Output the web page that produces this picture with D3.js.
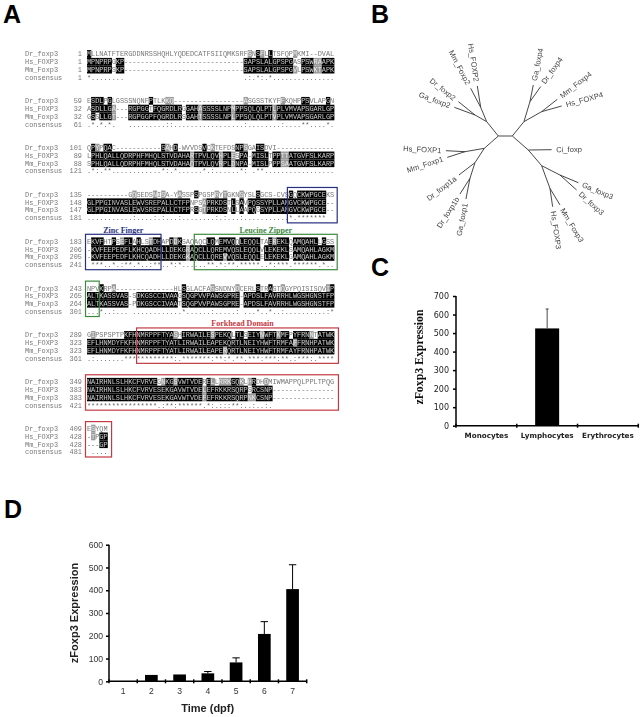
<!DOCTYPE html>
<html><head><meta charset="utf-8">
<script src="https://cdn.jsdelivr.net/npm/d3@7"></script>
<style>html,body{margin:0;padding:0;background:#fff}svg{display:block}</style></head>
<body><svg id="c" width="642" height="717"></svg>
<script>
// ---- Panel A: alignment
const seqNames = ["Dr_foxp3","Hs_FOXP3","Mm_Foxp3"];
const consensusName = "consensus";
const drSeq = [
"MLLNATFTERGDDNRSSHQHLYQDEDCATFSIIQMKSRFSNSFLLTSFQPMKMI--DVAL",
"ESDLPGLGSSSNQNFPTLKKQ-----------------ASGSSTKYFFKQHPPSVLAPGN",
"QPYPQAC-----------SAHD-WVVDSVCKTEFDSNPSGAISDVI--------------",
"----------GQSEDSNISA-YASSPSPGSPRYTGKNSYSLSGCS-CVSGQCKWPGCEKS",
"EKVFHTPSEFLAHLSTDHAPDDKSAQAQCLQMEMVQQLEQQLTAEREKLQAMQAHLLGSS",
"NPVKRPA--------------HLSGLACFASSNDNYDCERLSTRASTQGYPQISISQVIP",
"GIPSPSPTPKFHNMRPPFTYASHIRWAILESPEKQLTLSEIYNWFTKMFPYFRNNTATWK",
"NAIRHNLSLHKCFVRVEGNKGSVWTVDERELLRRKSQKLHRDHDMIWMAPPQLPPLTPQG",
"ESYQM"];
const hsSeq = [
"MPNPRPGKP-----------------------------SAPSLALGPSPGASPSWRAAPK",
"ASDLLGA---RGPGGTFQGRDLRGGAHASSSSLNPMPPSQLQLPTLPLVMVAPSGARLGP",
"LPHLQALLQDRPHFMHQLSTVDAHARTPVLQVHPLESPA-MISLTPPTTATGVFSLKARP",
"GLPPGINVASLEWVSREPALLCTFPNPSAPRKDSTLSAVPQSSYPLLANGVCKWPGCE--",
"-KVFEEPEDFLKHCQADHLLDEKGRAQCLLQREMVQSLEQQLVLEKEKLSAMQAHLAGKM",
"ALTKASSVAS-SDKGSCCIVAAGSQGPVVPAWSGPRE-APDSLFAVRRHLWGSHGNSTFP",
"EFLHNMDYFKFHNMRPPFTYATLIRWAILEAPEKQRTLNEIYHWFTRMFAFFRNHPATWK",
"NAIRHNLSLHKCFVRVESEKGAVWTVDELEFRKKRSQRPSRCSNP---------------",
"-TPGP"];
const mmSeq = [
"MPNPRPSKP-----------------------------SAPSLALGPSPGVLPSWKTAPK",
"GSSLLGT---RGPGGPFQGRDLRSGAHTSSSSLNPLPPSQLQLPTVPLVMVAPSGARLGP",
"SPHLQALLQDRPHFMHQLSTVDAHAQTPVLQVRPLDNPA-MISLPPPSAATGVFSLKARP",
"GLPPGINVASLEWVSREPALLCTFPRSGTPRKDSNLLAAPQGSYPLLANGVCKWPGCE--",
"-KVFEEPEDFLKHCQADHLLDEKGKAQCLLQREVVQSLEQQLELEKEKLGAMQAHLAGKM",
"ALTKASSVAS-PDKGSCCIVAATSQGPVVPAWSGPRE-APDSLFAVRRHLWGSHGNSTFP",
"EFLHNMDYFKFHNMRPPFTYATLIRWAILEAPERQRTLNEIYHWFTRMFAYFRNHPATWK",
"NAIRHNLSLHKCFVRVESEKGAVWTVDEFEFRKKRSQRPNKCSNP---------------",
"---GP"];
const drStart = [1,59,101,135,183,243,289,349,409];
const hsStart = [1,32,89,148,206,265,323,383,428];
const mmStart = [1,32,88,147,205,264,323,383,428];
const consStart = [1,61,121,181,241,301,361,421,481];
const similarGroups = ["STA","NEQK","NHQK","NDEQ","QHRK","MILV","MILF","HY","FYW"];
// domain annotations: block / column ranges
const domainNames = ["","Zinc Finger","Leucine Zipper","","Forkhead Domain","",""];
const domainColors = ["#27307f","#27307f","#3d8a3f","#3d8a3f","#c23a44","#c23a44","#c23a44"];
const domainBlock = [3,4,4,5,6,7,8];
const domainCol0 = [49,0,26.4,0,12.4,0,0];
const domainCol1 = [60,17.6,60,2.6,60.3,60.3,5.6];

// ---- Panel B: tree  [node, parent, branch length, bearing in degrees]
const treeEdges = [
["L","root",21,180],["R","root",21,0],
["P2","L",55.4,-129],["P2a","P2",46.6,-112.7],["Hs_FOXP2","P2a",64.8,-98.9],["Mm_Foxp2","P2a",64.4,-117.8],
["P2b","P2",40.3,-150.3],["Dr_foxp2","P2b",64,-141.3],["Ga_foxp2","P2b",66.1,-159.6],
["P1","L",56,138.6],["P1a","P1",58.9,170.2],["Hs_FOXP1","P1a",57.1,-177],["Mm_Foxp1","P1a",55.7,162.2],
["P1b","P1",51.3,123.1],["Dr_foxp1a","P1b",60.6,142.4],["P1c","P1b",49.3,107.7],
["Dr_foxp1b","P1c",55.8,122.6],["Ga_foxp1","P1c",63.2,101],
["P4","R",55.4,-50.9],["P4a","P4",62.6,-73.3],["Ga_foxp4","P4a",51,-78.7],["Dr_foxp4","P4a",55.2,-54.6],
["P4b","P4",60.9,-29.5],["Mm_Foxp4","P4b",59.8,-38.2],["Hs_FOXP4","P4b",62.4,-15.8],
["C","R",63.8,41.2],["Ci_foxp","C",70,-0.8],["P3","C",61.7,49.6],
["P3a","P3",61.7,27],["Ga_foxp3","P3a",59.6,22.7],["Dr_foxp3","P3a",67.3,42],
["P3b","P3",72.4,69.8],["Hs_FOXP3","P3b",55.6,81.7],["Mm_Foxp3","P3b",58.3,59]
];

// ---- Panel C
const cellTypes = ["Monocytes","Lymphocytes","Erythrocytes"];
const cellValues = [3,525,0];
const cellErrors = [0,105,0];
const cellTicks = [0,100,200,300,400,500,600,700];
// ---- Panel D
const days = ["1","2","3","4","5","6","7"];
const dayValues = [0,28,30,35,83,208,405];
const dayErrors = [0,0,0,8,20,54,107];
const dayTicks = [0,100,200,300,400,500,600];
const yTitle = "zFoxp3 Expression";

const svg = d3.select("#c");
const defs = svg.append("defs");
defs.append("filter").attr("id","soft").append("feGaussianBlur").attr("stdDeviation",0.35);
defs.append("filter").attr("id","soft2").append("feGaussianBlur").attr("stdDeviation",0.3);

// panel letters
const letters = [["A",3,23],["B",371,23],["C",371,276],["D",4,518]];
svg.selectAll("text.pl").data(letters).join("text").attr("class","pl")
  .attr("x",d=>d[1]).attr("y",d=>d[2]).text(d=>d[0])
  .attr("font-family","Liberation Sans").attr("font-weight","bold").attr("font-size",25).attr("fill","#000");

// ---- A
const colX = d3.scaleLinear().domain([0,60]).range([87,334.2]);
const blockY = d3.scaleLinear().domain([0,8]).range([54,428.6]);
const rowDY = d3.scaleLinear().domain([0,3]).range([0,23.4]);
const gA = svg.append("g").attr("filter","url(#soft)");
const mono = "Liberation Mono";
const similar = (a,b)=>similarGroups.some(g=>g.includes(a)&&g.includes(b));
drSeq.forEach((_,b)=>{
  const rows=[drSeq[b],hsSeq[b],mmSeq[b]];
  const starts=[drStart[b],hsStart[b],mmStart[b],consStart[b]];
  const g=gA.append("g");
  const len=d3.max(rows,r=>r.length);
  const labels=seqNames.concat([consensusName]);
  labels.forEach((n,r)=>{
    const y=blockY(b)+rowDY(r);
    g.append("text").attr("x",25).attr("y",y).attr("dy","0.35em").text(n)
      .attr("font-family",mono).attr("font-size",6.9).attr("fill","#777");
    g.append("text").attr("x",82).attr("y",y).attr("dy","0.35em").attr("text-anchor","end").text(starts[r])
      .attr("font-family",mono).attr("font-size",6.9).attr("fill","#777");
  });
  for(let c=0;c<len;c++){
    const col=rows.map(r=>r[c]||"-");
    const letters=col.filter(x=>x!=="-");
    rows.forEach((rw,r)=>{
      const ch=col[r];
      const y=blockY(b)+rowDY(r);
      let fill=null,tc="#777";
      if(ch!=="-"){
        const same=col.filter(x=>x===ch).length;
        const sim=col.filter((x,i)=>i!==r&&x!=="-"&&similar(x,ch)).length;
        if(same>=2){fill="#000";tc="#ccc";}
        else if(sim>=1){fill="#9a9a9a";tc="#eee";}
      }
      if(fill) g.append("rect").attr("x",colX(c)).attr("y",y-3.9).attr("width",colX(1)-colX(0)+0.2).attr("height",7.8).attr("fill",fill);
      g.append("text").attr("x",colX(c+0.5)).attr("y",y).attr("dy","0.35em").attr("text-anchor","middle").text(ch)
        .attr("font-family",mono).attr("font-size",6.9).attr("fill",tc);
    });
    let mark=" ";
    if(letters.length>=2){
      if(letters.length===3&&new Set(letters).size===1) mark="*";
      else if(letters.length===3&&letters.every(x=>similar(x,letters[0]))) mark=":";
      else mark=".";
    }
    g.append("text").attr("x",colX(c+0.5)).attr("y",blockY(b)+rowDY(3)).attr("dy","0.35em").attr("text-anchor","middle").text(mark)
      .attr("font-family",mono).attr("font-size",6.9).attr("fill","#666");
  }
});
domainBlock.forEach((b,i)=>{
  const x0=colX(domainCol0[i])-1.5, x1=colX(domainCol1[i])+(domainCol1[i]>=60?3:1.5);
  const y0=blockY(b)-7, y1=blockY(b)+rowDY(3)+5;
  svg.append("rect").attr("x",x0).attr("y",y0).attr("width",x1-x0).attr("height",y1-y0)
    .attr("fill","none").attr("stroke",domainColors[i]).attr("stroke-width",1.2);
  if(domainNames[i]) svg.append("text").attr("x",(x0+x1)/2+(i===4?5:0)).attr("y",y0-1.5).attr("text-anchor","middle").text(domainNames[i])
    .attr("font-family","Liberation Serif").attr("font-weight","bold").attr("font-size",8).attr("fill",domainColors[i]);
});

// ---- B
const lenScale = d3.scaleLinear().domain([0,3]).range([0,1]);
const pos = new Map([["root",[505.3,136]]]);
const gB = svg.append("g").attr("filter","url(#soft2)");
treeEdges.forEach(([n,p,l,a])=>{
  const [x0,y0]=pos.get(p), r=a*Math.PI/180, L=lenScale(l);
  const x1=x0+L*Math.cos(r), y1=y0+L*Math.sin(r);
  pos.set(n,[x1,y1]);
  gB.append("line").attr("x1",x0).attr("y1",y0).attr("x2",x1).attr("y2",y1).attr("stroke","#333").attr("stroke-width",0.9);
  if(n.includes("_")){
    const left=Math.abs(a)>90, rot=left?a+180:a;
    const lx=x1+4.5*Math.cos(r), ly=y1+4.5*Math.sin(r);
    gB.append("text").attr("x",lx).attr("y",ly).attr("dy","0.35em")
      .attr("text-anchor",left?"end":"start").attr("transform",`rotate(${rot} ${lx} ${ly})`)
      .text(n).attr("font-family","Liberation Sans").attr("font-size",7.6).attr("fill","#444");
  }
});

// bar chart helper
function bars(o){
  const g=svg.append("g").attr("filter","url(#soft2)");
  const x=d3.scaleBand().domain(o.cats).range(o.xr);
  const y=d3.scaleLinear().domain(o.yd).range(o.yr);
  const yAxis=d3.axisLeft(y).tickValues(o.ticks).tickSize(3).tickPadding(o.pad);
  const xAxis=d3.axisBottom(x).tickSize(0).tickPadding(o.xpad);
  const ya=g.append("g").attr("transform",`translate(${o.xr[0]},0)`).call(yAxis);
  const xa=g.append("g").attr("transform",`translate(0,${o.yr[0]})`).call(xAxis);
  [ya,xa].forEach(a=>{a.selectAll("path,line").attr("stroke","#000").attr("stroke-width",1.5);});
  ya.select(".domain").attr("d",`M0,${o.yr[1]}V${o.yr[0]}`);
  xa.select(".domain").attr("d",`M${o.xr[0]},0H${o.xr[1]}`);
  ya.selectAll("text").attr("font-family",o.font).attr("font-size",o.fs).attr("fill",o.col);
  xa.selectAll("text").attr("font-family",o.xfont).attr("font-size",o.xfs).attr("font-weight",o.xw).attr("fill",o.xcol);
  // category boundary ticks on the x axis
  const bounds=o.cats.map(c=>x(c)).concat([o.xr[1]]);
  g.selectAll("line.bt").data(bounds).join("line").attr("class","bt").attr("x1",d=>d).attr("x2",d=>d)
    .attr("y1",o.yr[0]-2).attr("y2",o.yr[0]+2).attr("stroke","#000").attr("stroke-width",1.5);
  const bw=o.barW;
  g.selectAll("rect.bar").data(o.cats).join("rect").attr("class","bar")
    .attr("x",c=>x(c)+x.bandwidth()/2-bw/2).attr("width",bw)
    .attr("y",(c,i)=>y(o.vals[i])).attr("height",(c,i)=>y(0)-y(o.vals[i])).attr("fill","#000");
  o.cats.forEach((c,i)=>{
    if(!o.errs[i]) return;
    const cx=x(c)+x.bandwidth()/2, t=y(o.vals[i]+o.errs[i]);
    g.append("line").attr("x1",cx).attr("x2",cx).attr("y1",y(o.vals[i])).attr("y2",t).attr("stroke",o.ec).attr("stroke-width",o.ew);
    g.append("line").attr("x1",cx-o.cap).attr("x2",cx+o.cap).attr("y1",t).attr("y2",t).attr("stroke",o.ec).attr("stroke-width",o.ew);
  });
  return g;
}
const gC=bars({cats:cellTypes,vals:cellValues,errs:cellErrors,ticks:cellTicks,xr:[456,638.3],yr:[425.7,296],yd:[0,700],
  barW:24,cap:1.5,ew:0.9,ec:"#333",pad:4,font:"DejaVu Sans",fs:8,col:"#222",xfont:"DejaVu Sans",xfs:7.2,xw:"bold",xcol:"#222",xpad:7});
gC.append("text").attr("transform","translate(423,357) rotate(-90)").attr("text-anchor","middle").text(yTitle)
  .attr("font-family","Liberation Serif").attr("font-weight","bold").attr("font-size",11.8).attr("fill","#111");

const gD=bars({cats:days,vals:dayValues,errs:dayErrors,ticks:dayTicks,xr:[109,306.7],yr:[681.3,544.7],yd:[0,600],
  barW:12.7,cap:3.7,ew:1,ec:"#000",pad:3,font:"Liberation Sans",fs:8.6,col:"#333",xfont:"Liberation Sans",xfs:8.6,xw:"normal",xcol:"#333",xpad:7});
gD.append("text").attr("transform","translate(78,613) rotate(-90)").attr("text-anchor","middle").text(yTitle)
  .attr("font-family","Liberation Sans").attr("font-weight","bold").attr("font-size",11).attr("fill","#222");
gD.append("text").attr("x",207.7).attr("y",712).attr("text-anchor","middle").text("Time (dpf)")
  .attr("font-family","Liberation Sans").attr("font-weight","bold").attr("font-size",11).attr("fill","#222");
</script></body></html>
